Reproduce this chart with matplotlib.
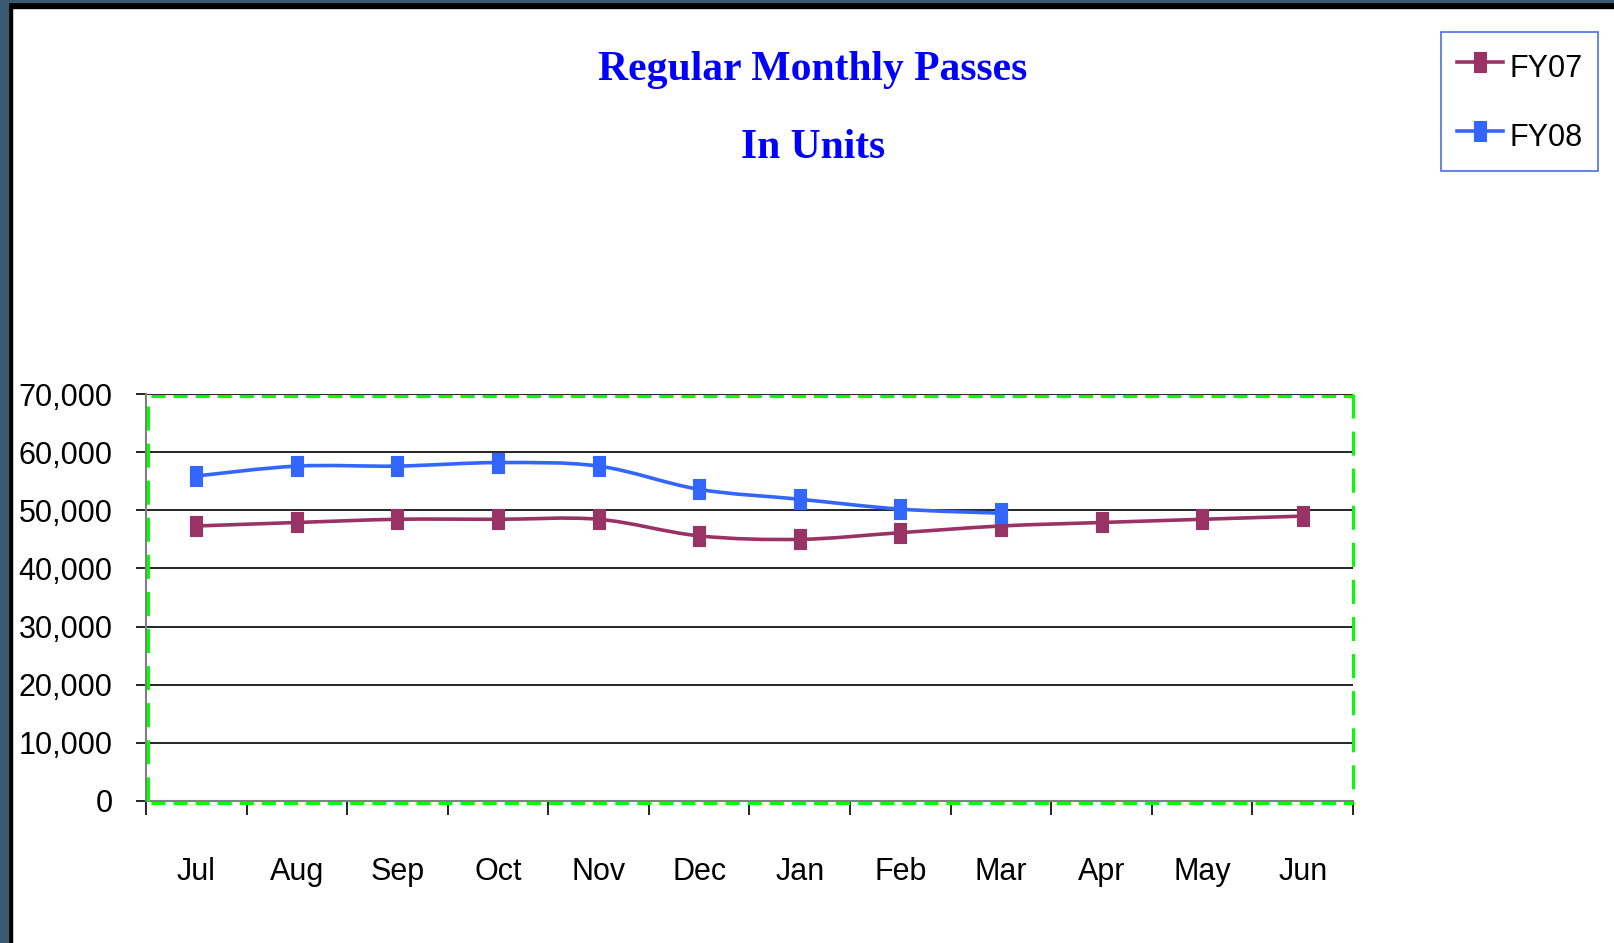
import matplotlib
matplotlib.use("Agg")
import matplotlib.pyplot as plt
from matplotlib.path import Path
from matplotlib.patches import PathPatch, Rectangle
from matplotlib.lines import Line2D
from matplotlib.ticker import FuncFormatter, FixedLocator
import numpy as np

months = ["Jul", "Aug", "Sep", "Oct", "Nov", "Dec", "Jan", "Feb", "Mar", "Apr", "May", "Jun"]
fy07 = [47300, 47900, 48450, 48450, 48450, 45600, 45000, 46150, 47300, 47900, 48450, 49000]
fy08 = [55900, 57600, 57600, 58200, 57600, 53600, 51900, 50200, 49500]
series_names = ["FY07", "FY08"]
series_colors = ["#993366", "#3366FF"]
yticks = [0, 10000, 20000, 30000, 40000, 50000, 60000, 70000]

TICK_FONT = ["Liberation Sans", "DejaVu Sans"]
TITLE_FONT = ["Liberation Serif", "DejaVu Serif"]

fig = plt.figure(figsize=(16.15, 9.43), dpi=100)
W, H = 1615, 943

# window frame
fig.patches.append(Rectangle((0, 0), 12 / W, 1, transform=fig.transFigure, color="black", zorder=0))
fig.patches.append(Rectangle((0, 1 - 8 / H), 1, 8 / H, transform=fig.transFigure, color="black", zorder=0))
fig.patches.append(Rectangle((0, 0), 8 / W, 1, transform=fig.transFigure, color="#3B5A72", zorder=1))
fig.patches.append(Rectangle((0, 1 - 2 / H), 1, 2 / H, transform=fig.transFigure, color="#3B5A72", zorder=1))

ax = fig.add_axes([146 / W, 1 - 801 / H, (1353 - 146) / W, (801 - 394) / H])
ax.set_xlim(-0.5, 11.5)
ax.set_ylim(0, 70000)


def smooth_path(xs, ys):
    pts = np.column_stack([xs, ys]).astype(float)
    n = len(pts)
    verts = [pts[0]]
    codes = [Path.MOVETO]
    for i in range(n - 1):
        p0 = pts[i - 1] if i > 0 else pts[i]
        p1 = pts[i]
        p2 = pts[i + 1]
        p3 = pts[i + 2] if i + 2 < n else pts[i + 1]
        c1 = p1 + (p2 - p0) / 6.0
        c2 = p2 - (p3 - p1) / 6.0
        verts += [c1, c2, p2]
        codes += [Path.CURVE4] * 3
    return Path(verts, codes)


marker_path = Path([(-0.6, -1), (0.6, -1), (0.6, 1), (-0.6, 1), (-0.6, -1)],
                   [Path.MOVETO, Path.LINETO, Path.LINETO, Path.LINETO, Path.CLOSEPOLY])

LW = 2.6
MS = 14.5
handles = []
for name, vals, col in zip(series_names, [fy07, fy08], series_colors):
    xs = np.arange(len(vals))
    ax.add_patch(PathPatch(smooth_path(xs, vals), facecolor="none", edgecolor=col, lw=LW,
                           zorder=4, capstyle="round"))
    ax.plot(xs, vals, linestyle="none", marker=marker_path, markersize=MS,
            color=col, markeredgewidth=0.8, zorder=5)
    handles.append(Line2D([], [], color=col, lw=LW, marker=marker_path, markersize=MS,
                          markeredgewidth=0.8))

# grid
ax.yaxis.set_major_locator(FixedLocator(yticks))
ax.yaxis.set_major_formatter(FuncFormatter(lambda v, p: f"{int(v):,}"))
ax.grid(axis="y", color="black", lw=1.2, zorder=1)
ax.set_axisbelow(True)

ax.xaxis.set_major_locator(FixedLocator(np.arange(12)))
ax.set_xticklabels(months)
ax.xaxis.set_minor_locator(FixedLocator(np.arange(-0.5, 12, 1)))
ax.tick_params(axis="x", which="major", length=0, pad=40)
ax.tick_params(axis="x", which="minor", length=10, width=1.2, color="black", direction="out")
ax.tick_params(axis="y", which="major", length=7, width=1.2, color="black", direction="out", pad=17)
for lab in ax.get_xticklabels() + ax.get_yticklabels():
    lab.set_fontfamily(TICK_FONT)
    lab.set_fontsize(22)

for s in ["top", "right"]:
    ax.spines[s].set_visible(False)
for s in ["left", "bottom"]:
    ax.spines[s].set_color("#808080")
    ax.spines[s].set_linewidth(1.5)

# green dashed plot-area border
GLW = 2.2
kw = dict(transform=ax.transAxes, color="#00FF00", lw=GLW, clip_on=False, zorder=6,
          solid_capstyle="butt", dash_capstyle="butt")
hd = (10.1 / GLW, 5.8 / GLW)
vd = (17.3 / GLW, 9.4 / GLW)
ax.add_line(Line2D([0.004, 1], [0.996, 0.996], dashes=hd, **kw))
ax.add_line(Line2D([0.004, 1.0], [-0.006, -0.006], dashes=hd, **kw))
ax.add_line(Line2D([0.002, 0.002], [0.97, -0.005], dashes=vd, **kw))
ax.add_line(Line2D([1.0, 1.0], [1.0, -0.005], dashes=vd, **kw))

# title
fig.text(813 / W, 1 - 80 / H, "Regular Monthly Passes", ha="center", va="baseline",
         color="#0000FF", fontsize=30, fontweight="bold", family=TITLE_FONT)
fig.text(813 / W, 1 - 158 / H, "In Units", ha="center", va="baseline",
         color="#0000FF", fontsize=30, fontweight="bold", family=TITLE_FONT)

leg = fig.legend(handles, series_names, loc="upper right", bbox_to_anchor=(1598 / W, 1 - 32 / H),
                 frameon=True, fancybox=False, edgecolor="#4A70E0", framealpha=1,
                 prop={"family": TICK_FONT, "size": 22}, handlelength=1.5, handleheight=1.63,
                 handletextpad=0.23, labelspacing=0.95, borderpad=0.5, borderaxespad=0)
leg.get_frame().set_linewidth(1.2)

fig.savefig("out.png", dpi=100)
